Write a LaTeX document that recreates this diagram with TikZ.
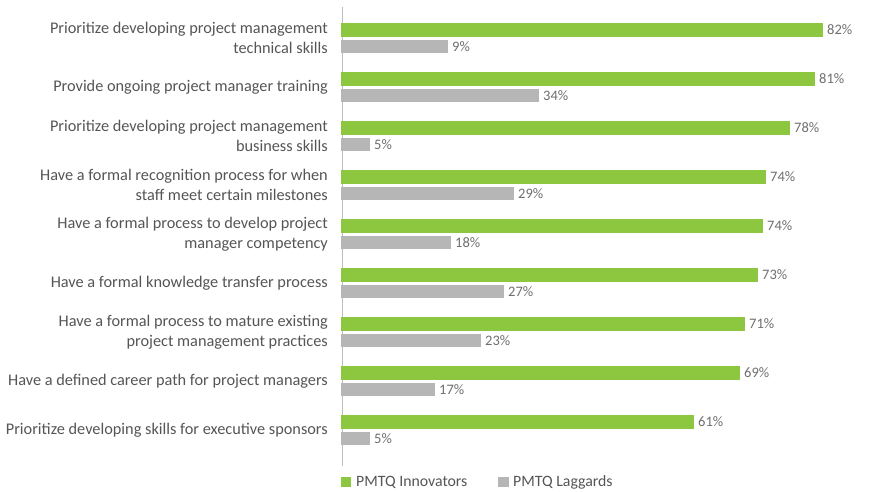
\documentclass[tikz,border=0pt]{standalone}
\usepackage{fontspec}
\setmainfont{Carlito}
\usetikzlibrary{positioning}
\definecolor{innov}{HTML}{8DC63F}
\definecolor{lagg}{HTML}{B5B6B5}
\definecolor{labtxt}{HTML}{555555}
\definecolor{pcttxt}{HTML}{6E6E6E}
\definecolor{axisgray}{HTML}{BDBDBD}

\begin{document}
\begin{tikzpicture}[x=1pt,y=-1pt,
	item/.style={anchor=east,align=right,text=labtxt,inner sep=0pt,font=\fontsize{16.3}{20}\selectfont},
	pct/.style={anchor=west,text=pcttxt,inner sep=0pt,font=\fontsize{14.5}{16}\selectfont},
	legtext/.style={anchor=west,text=labtxt,inner sep=0pt,font=\fontsize{15.8}{18}\selectfont}]
	\useasboundingbox (0,0) rectangle (874,491);
	\draw[axisgray,line width=1pt] (342,7) -- (342,466);
	% bars: label / green length / gray length / green value / gray value
	\foreach \txt/\gl/\ll/\gv/\lv [count=\i] in {
		{Prioritize developing project management\\technical skills}/482/107/82/9,
		{Provide ongoing project manager training}/474/198/81/34,
		{Prioritize developing project management\\business skills}/449/29/78/5,
		{Have a formal recognition process for when\\staff meet certain milestones}/425/173/74/29,
		{Have a formal process to develop project\\manager competency}/422/110/74/18,
		{Have a formal knowledge transfer process}/417/163/73/27,
		{Have a formal process to mature existing\\project management practices}/404/140/71/23,
		{Have a defined career path for project managers}/399/94/69/17,
		{Prioritize developing skills for executive sponsors}/353/29/61/5}
	{
		\pgfmathsetmacro\ry{23+49*(\i-1)}
		\fill[innov] (341,\ry) rectangle ++(\gl,14);
		\fill[lagg] (341,\ry+17) rectangle ++(\ll,13);
		\node[item] (lab\i) at (328,\ry+15) {\txt};
		\node[pct] (inn\i) at (345+\gl,\ry+7) {\gv\%};
		\node[pct] (lag\i) at (345+\ll,\ry+24) {\lv\%};
	}
	% legend
	\fill[innov] (341,477) rectangle (351,487);
	\node[legtext] (leginn) at (356,482) {PMTQ Innovators};
	\fill[lagg] (498,477) rectangle (509,487);
	\node[legtext] (leglag) at (513,482) {PMTQ Laggards};
\end{tikzpicture}
\end{document}
